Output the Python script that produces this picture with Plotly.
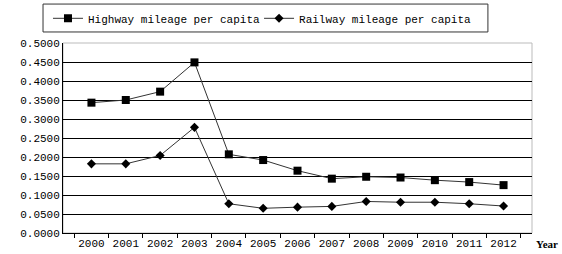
import plotly.graph_objects as go

years = [str(y) for y in range(2000, 2013)]
highway = [0.343, 0.350, 0.372, 0.449, 0.207, 0.192, 0.164, 0.143, 0.148, 0.146, 0.139, 0.134, 0.126]
railway = [0.182, 0.182, 0.204, 0.278, 0.077, 0.065, 0.068, 0.070, 0.083, 0.081, 0.081, 0.077, 0.071]
ytick_vals = [i * 0.05 for i in range(11)]

FONT = "Liberation Mono"

fig = go.Figure()
fig.add_trace(go.Scatter(
    x=years, y=highway, mode="lines+markers", name="Highway mileage per capita",
    line=dict(color="#333333", width=1),
    marker=dict(symbol="square", size=8, color="#000000"),
    legend="legend",
))
fig.add_trace(go.Scatter(
    x=years, y=railway, mode="lines+markers", name="Railway mileage per capita",
    line=dict(color="#333333", width=1),
    marker=dict(symbol="diamond", size=7, color="#000000"),
    legend="legend2",
))

legend_common = dict(orientation="h", yanchor="middle", xanchor="left",
                     bgcolor="rgba(0,0,0,0)", borderwidth=0,
                     font=dict(family=FONT, size=11, color="#000000"))

fig.update_layout(
    width=562, height=254,
    margin=dict(l=63, r=30, t=43, b=21, autoexpand=False),
    paper_bgcolor="white", plot_bgcolor="white",
    font=dict(family=FONT, size=11, color="#000000"),
    showlegend=True,
    legend=dict(x=-0.032, y=1.13, **legend_common),
    legend2=dict(x=0.418, y=1.13, **legend_common),
    xaxis=dict(type="category", showgrid=False, showline=True, linecolor="#000000", linewidth=1,
               ticks="outside", tickson="boundaries", ticklen=4, tickcolor="#000000",
               tickangle=0, tickfont=dict(family=FONT, size=11), mirror=False),
    yaxis=dict(range=[0, 0.5], tickvals=ytick_vals, tickformat=".4f",
               showgrid=True, gridcolor="#000000", gridwidth=1,
               showline=True, linecolor="#000000", linewidth=1, ticks="",
               tickfont=dict(family=FONT, size=11), zeroline=False),
    shapes=[
        dict(type="rect", xref="paper", yref="paper", x0=0, x1=1, y0=0, y1=1,
             line=dict(color="#bbbbbb", width=1), layer="below"),
        dict(type="rect", xref="paper", yref="paper", x0=-0.0426, x1=0.906, y0=1.058, y1=1.205,
             line=dict(color="#333333", width=1)),
    ],
    annotations=[
        dict(text="<b>Year</b>", xref="paper", yref="paper", x=1.005, y=-0.015,
             xanchor="left", yanchor="top", showarrow=False,
             font=dict(family="Liberation Serif", size=11)),
    ],
)

fig.write_html("out.html", config={"displayModeBar": False},
               post_script="document.body.style.margin='0';document.body.style.overflow='hidden';")
